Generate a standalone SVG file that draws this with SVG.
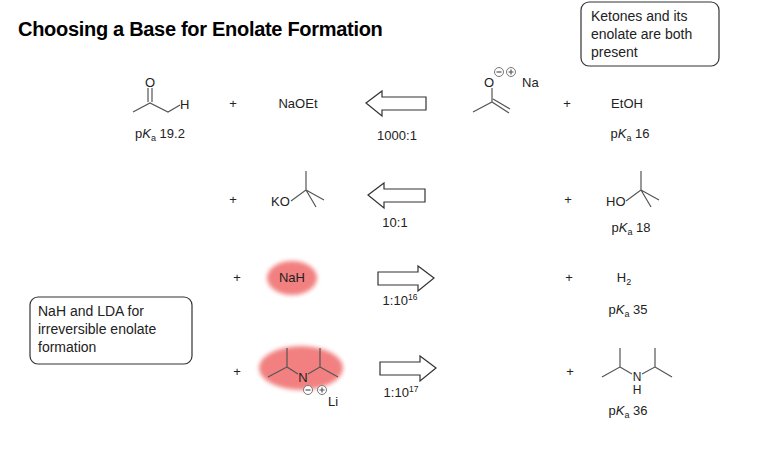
<svg xmlns="http://www.w3.org/2000/svg" width="767" height="449" viewBox="0 0 767 449">
<defs>
<style>
text{font-family:"Liberation Sans",Arial,sans-serif;font-size:13px;fill:#222}
.t{text-anchor:middle}
.b{stroke:#555;stroke-width:1.2;fill:none}
.arr{fill:#fff;stroke:#333;stroke-width:1.2}
.box{fill:#fff;stroke:#333;stroke-width:1.2}
.chg{fill:#fff;stroke:#777;stroke-width:1}
</style>
<filter id="blur"><feGaussianBlur stdDeviation="2"/></filter>
</defs>
<rect width="767" height="449" fill="#fff"/>
<g id="title"><text x="18" y="36" style="font-size:20px;font-weight:bold;fill:#000;letter-spacing:-0.3px">Choosing a Base for Enolate Formation</text></g>
<g id="note1"><rect class="box" x="581" y="2" width="138" height="64" rx="8"/>
<text x="591" y="21" style="font-size:14px">Ketones  and  its</text><text x="591" y="39" style="font-size:14px">enolate  are  both</text><text x="591" y="57" style="font-size:14px">present</text></g>
<g id="note2"><rect class="box" x="30" y="297" width="162" height="67" rx="8"/>
<text x="38" y="316" style="font-size:14px">NaH  and  LDA  for</text><text x="38" y="334" style="font-size:14px">irreversible enolate</text><text x="38" y="352" style="font-size:14px">formation</text></g>

<g id="acetone">
<path class="b" d="M133 112 L150 103 L168 112 L180 105 M148 102 V88 M152 102 V88"/>
<text class="t" x="150" y="87">O</text><text x="180" y="109">H</text>
<text class="t" x="160" y="138">p<tspan font-style="italic">K</tspan><tspan font-size="9" dy="3">a</tspan><tspan dy="-3"> 19.2</tspan></text>
</g>
<g id="plus"><text class="t" x="233" y="108">+</text><text class="t" x="233" y="204">+</text><text class="t" x="237" y="282">+</text><text class="t" x="237" y="376">+</text>
<text class="t" x="567" y="108">+</text><text class="t" x="568" y="204">+</text><text class="t" x="569" y="282">+</text><text class="t" x="570" y="376">+</text></g>
<g id="naoet"><text class="t" x="298" y="108">NaOEt</text></g>
<g id="enolate">
<path class="b" d="M473 112 L492 102 L509 113 M493 99 L510 109 M492 102 V88"/>
<text class="t" x="489" y="87">O</text>
<circle class="chg" cx="499" cy="72" r="4.5"/><path class="b" d="M496.5 72 H501.5"/>
<circle class="chg" cx="511" cy="72" r="4.5"/><path class="b" d="M508.5 72 H513.5 M511 69.5 V74.5"/>
<text x="522" y="87">Na</text>
</g>
<g id="etoh"><text class="t" x="627" y="108">EtOH</text>
<text class="t" x="630" y="138">p<tspan font-style="italic">K</tspan><tspan font-size="9" dy="3">a</tspan><tspan dy="-3"> 16</tspan></text></g>

<g id="kotbu"><text x="271" y="206">KO</text>
<path class="b" d="M291 201 L306 190 V171 M306 190 L324 200 M306 190 L316 207"/></g>
<g id="hotbu"><text x="606" y="206">HO</text>
<path class="b" d="M626 201 L641 190 V171 M641 190 L659 200 M641 190 L651 207"/>
<text class="t" x="631" y="232">p<tspan font-style="italic">K</tspan><tspan font-size="9" dy="3">a</tspan><tspan dy="-3"> 18</tspan></text></g>

<g id="nah"><ellipse cx="292" cy="278" rx="25" ry="17" fill="#f06a6a" opacity="0.85" filter="url(#blur)"/><text class="t" x="292" y="282">NaH</text></g>
<g id="h2"><text class="t" x="624" y="282">H<tspan font-size="9" dy="3">2</tspan></text>
<text class="t" x="628" y="314">p<tspan font-style="italic">K</tspan><tspan font-size="9" dy="3">a</tspan><tspan dy="-3"> 35</tspan></text></g>

<g id="lda"><ellipse cx="301" cy="368" rx="42" ry="22" fill="#f06a6a" opacity="0.85" filter="url(#blur)"/>
<path class="b" d="M268 377 L287 367 V348 M287 367 L298 374 M308 374 L320 367 V348 M320 367 L338 377"/>
<text class="t" x="303" y="382">N</text>
<circle class="chg" cx="308" cy="390" r="4.5"/><path class="b" d="M305.5 390 H310.5"/>
<circle class="chg" cx="322" cy="390" r="4.5"/><path class="b" d="M319.5 390 H324.5 M322 387.5 V392.5"/>
<text x="328" y="406">Li</text></g>
<g id="dipa"><path class="b" d="M602 377 L620 367 V348 M620 367 L632 374 M642 374 L655 367 V348 M655 367 L672 377"/>
<text class="t" x="637" y="381" style="font-size:12px">N</text><text class="t" x="637" y="394" style="font-size:12px">H</text>
<text class="t" x="628" y="415">p<tspan font-style="italic">K</tspan><tspan font-size="9" dy="3">a</tspan><tspan dy="-3"> 36</tspan></text></g>

<g id="connectors">
<path class="arr" d="M366 103 L382 91 V97 H426 V110 H382 V116 Z"/>
<text class="t" x="397" y="140">1000:1</text>
<path class="arr" d="M368 195 L384 183 V189 H425 V202 H384 V208 Z"/>
<text class="t" x="395" y="227">10:1</text>
<path class="arr" d="M434 278 L418 266 V272 H378 V285 H418 V291 Z"/>
<text class="t" x="400" y="305">1:10<tspan font-size="8.5" dy="-5">16</tspan></text>
<path class="arr" d="M436 368 L420 356 V362 H380 V375 H420 V381 Z"/>
<text class="t" x="401" y="397">1:10<tspan font-size="8.5" dy="-5">17</tspan></text>
</g>
</svg>
